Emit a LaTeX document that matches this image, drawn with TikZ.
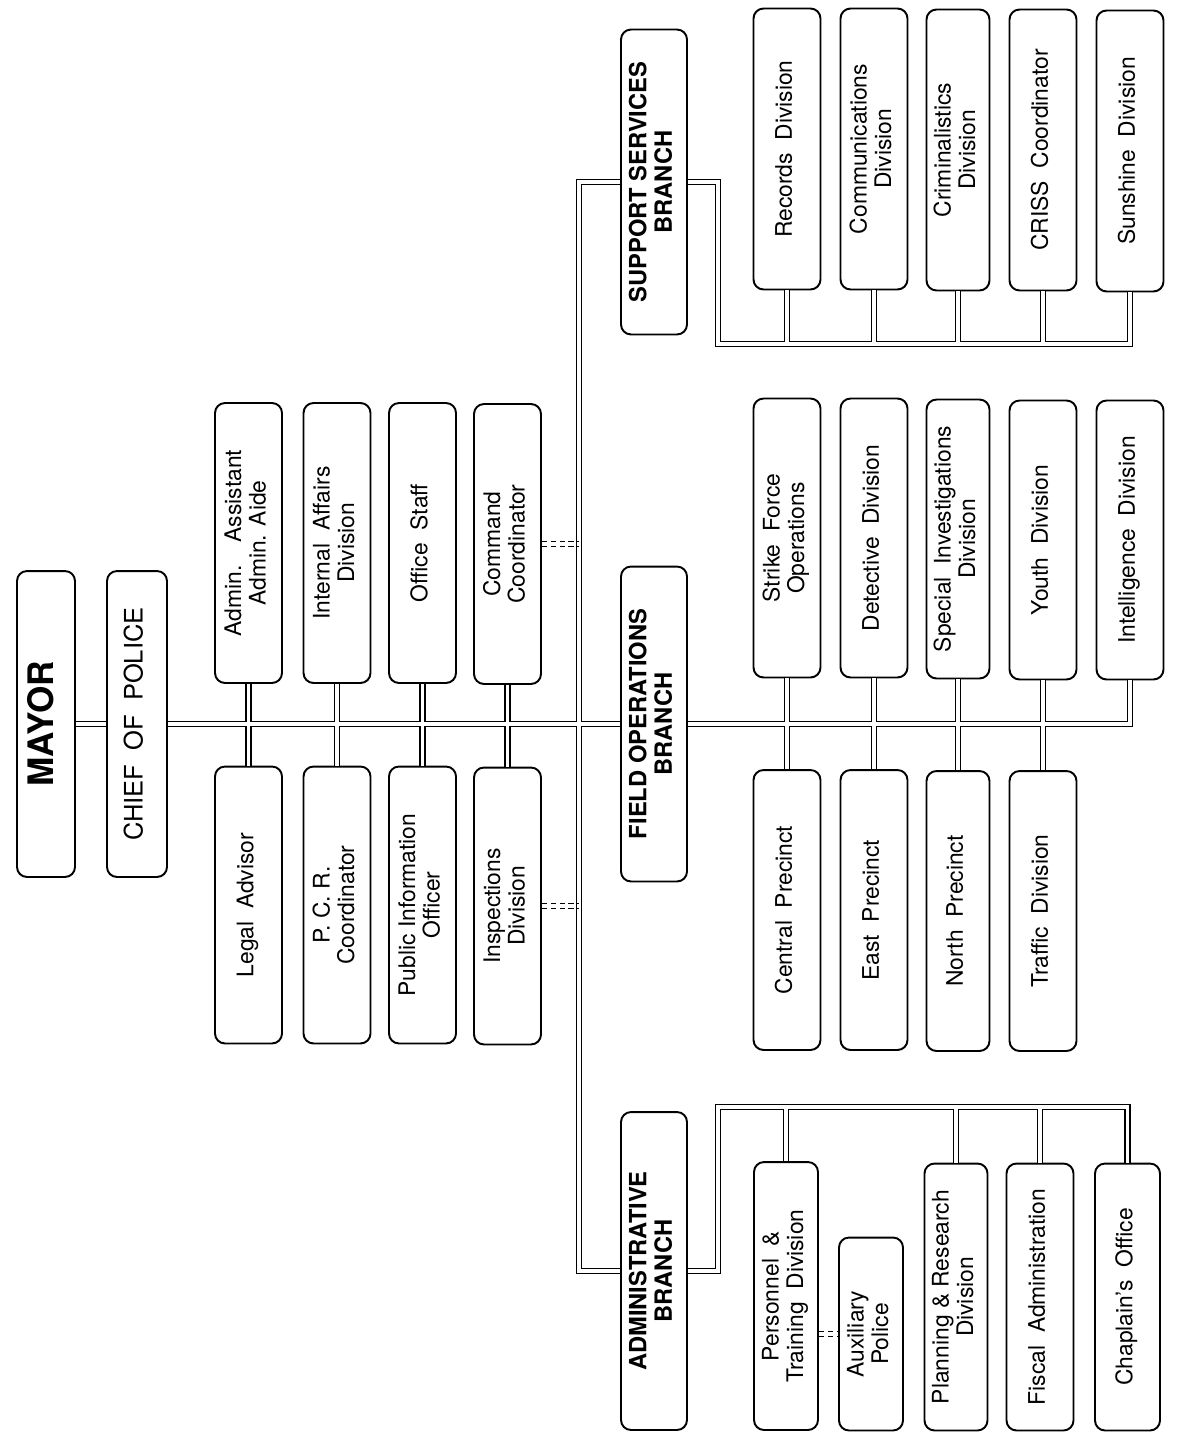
\documentclass[tikz,border=0pt]{standalone}
\usepackage{fontspec}
\setmainfont{TeX Gyre Heros}
\usepackage{graphicx}
\newcommand{\vt}[1]{\rotatebox{90}{\begin{tabular}{@{}c@{}}#1\end{tabular}}}
\tikzset{
	unit/.style={draw, line width=1.1pt, rounded corners=0.2cm, inner sep=0pt, minimum width=1.34cm, minimum height=5.6cm, font=\fontsize{13}{14}\selectfont},
	branch/.style={unit, minimum width=1.32cm, font=\bfseries\fontsize{13.5}{14.5}\selectfont},
	link/.style={line width=0.7pt, double, double distance=2.2pt},
	dashlink/.style={link, dash pattern=on 3pt off 2pt}
}

\begin{document}
\begin{tikzpicture}[x=0.02cm, y=-0.02cm]
	\useasboundingbox (0, 0) rectangle (1181, 1433);
	% Top of the chart:
	\node[unit, minimum width=1.16cm, minimum height=6.12cm, font=\bfseries\fontsize{20}{22}\selectfont] (mayor) at (46, 724) {\vt{MAYOR}};
	\node[unit, minimum width=1.2cm, minimum height=6.12cm, font=\fontsize{14.5}{16}\selectfont] (chief) at (137, 724) {\vt{CHIEF~ OF~ POLICE}};
	% Staff units:
	\node[unit, minimum height=5.6cm] (aide) at (248.5, 543) {\vt{Admin.\quad Assistant\\ Admin. Aide}};
	\node[unit, minimum height=5.6cm] (iad) at (337, 543) {\vt{Internal~ Affairs\\ Division}};
	\node[unit, minimum height=5.6cm] (staff) at (422.5, 543) {\vt{Office~ Staff}};
	\node[unit, minimum height=5.6cm] (cmd) at (507.5, 544) {\vt{Command\\ Coordinator}};
	\node[unit, minimum height=5.54cm] (legal) at (248.5, 905) {\vt{Legal~ Advisor}};
	\node[unit, minimum height=5.54cm] (pcr) at (337, 905) {\vt{P. C. R.\\ Coordinator}};
	\node[unit, minimum height=5.54cm] (pio) at (422.5, 905) {\vt{Public Information\\ Officer}};
	\node[unit, minimum height=5.54cm] (insp) at (507.5, 906) {\vt{Inspections\\ Division}};
	% Branches:
	\node[branch, minimum height=6.1cm] (ssb) at (654, 182) {\vt{SUPPORT SERVICES\\ BRANCH}};
	\node[branch, minimum height=6.3cm] (fob) at (654, 724) {\vt{FIELD OPERATIONS\\ BRANCH}};
	\node[branch, minimum height=6.36cm] (adb) at (654, 1271) {\vt{ADMINISTRATIVE\\ BRANCH}};
	% Support Services units:
	\node[unit, minimum height=5.62cm] (rec) at (787, 149) {\vt{Records~ Division}};
	\node[unit, minimum height=5.62cm] (com) at (874, 149) {\vt{Communications\\ Division}};
	\node[unit, minimum height=5.62cm, minimum width=1.26cm] (crim) at (958, 150) {\vt{Criminalistics\\ Division}};
	\node[unit, minimum height=5.62cm] (criss) at (1043, 150) {\vt{CRISS~ Coordinator}};
	\node[unit, minimum height=5.62cm] (sun) at (1130, 151) {\vt{Sunshine~ Division}};
	% Field Operations units:
	\node[unit, minimum height=5.58cm] (strike) at (787, 538) {\vt{Strike~ Force\\ Operations}};
	\node[unit, minimum height=5.58cm] (det) at (874, 538) {\vt{Detective~ Division}};
	\node[unit, minimum height=5.58cm, minimum width=1.26cm] (spec) at (958, 539) {\vt{Special~ Investigations\\ Division}};
	\node[unit, minimum height=5.58cm] (youth) at (1043, 540) {\vt{Youth~ Division}};
	\node[unit, minimum height=5.58cm] (intel) at (1130, 540) {\vt{Intelligence~ Division}};
	\node[unit, minimum height=5.6cm] (cent) at (787, 910) {\vt{Central~ Precinct}};
	\node[unit, minimum height=5.6cm] (east) at (874, 910) {\vt{East~ Precinct}};
	\node[unit, minimum height=5.6cm, minimum width=1.26cm] (north) at (958, 911) {\vt{North~ Precinct}};
	\node[unit, minimum height=5.6cm] (traf) at (1043, 911) {\vt{Traffic~ Division}};
	% Administrative units:
	\node[unit, minimum height=5.36cm, minimum width=1.28cm] (pers) at (786, 1296) {\vt{Personnel~ \&\\ Training~ Division}};
	\node[unit, minimum height=3.86cm, minimum width=1.28cm] (aux) at (871, 1334) {\vt{Auxiliary\\ Police}};
	\node[unit, minimum height=5.34cm, minimum width=1.26cm] (plan) at (956, 1297) {\vt{Planning \& Research\\ Division}};
	\node[unit, minimum height=5.34cm] (fisc) at (1040, 1297) {\vt{Fiscal~ Administration}};
	\node[unit, minimum height=5.34cm, minimum width=1.3cm] (chap) at (1127.5, 1297) {\vt{Chaplain's~ Office}};
	% Bus coordinates:
	\coordinate (vx) at (579, 0);
	\coordinate (sbus) at (718, 344);
	\coordinate (abus) at (718, 1107);
	% Solid links:
	\draw[link] (mayor.east) -- (chief.west)
		(chief.east) -- (fob.west)
		(fob.east) -- (fob.east -| intel.south) -- (intel.south)
		(aide.south) -- (legal.north)
		(iad.south) -- (pcr.north)
		(staff.south) -- (pio.north)
		(cmd.south) -- (insp.north)
		(strike.south) -- (cent.north)
		(det.south) -- (east.north)
		(spec.south) -- (north.north)
		(youth.south) -- (traf.north)
		(ssb.west) -- (ssb.west -| vx) -- (adb.west -| vx) -- (adb.west)
		(ssb.east) -- (ssb.east -| sbus) -- (sbus) -- (sbus -| sun.south) -- (sun.south)
		(rec.south) -- (rec.south |- sbus)
		(com.south) -- (com.south |- sbus)
		(crim.south) -- (crim.south |- sbus)
		(criss.south) -- (criss.south |- sbus)
		(adb.east) -- (adb.east -| abus) -- (abus) -- (abus -| chap.north) -- (chap.north)
		(pers.north) -- (pers.north |- abus)
		(plan.north) -- (plan.north |- abus)
		(fisc.north) -- (fisc.north |- abus);
	% Dashed links:
	\draw[dashlink] (cmd.east) -- (cmd.east -| vx);
	\draw[dashlink] (insp.east) -- (insp.east -| vx);
	\draw[dashlink] (aux.west -| pers.east) -- (aux.west);
\end{tikzpicture}
\end{document}
